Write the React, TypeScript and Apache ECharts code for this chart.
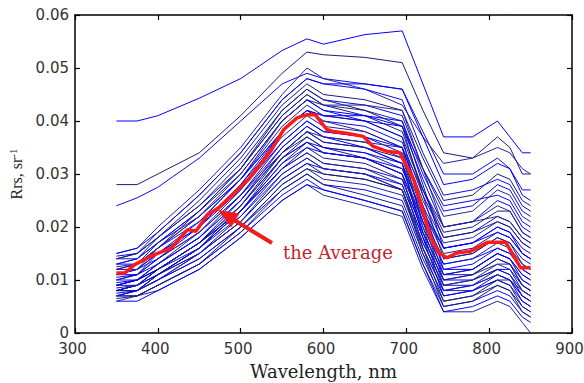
import React, { useEffect, useRef } from "react";
import * as echarts from "echarts";

// Common wavelength sampling of the individual spectra (nm)
const wavelengths = [350, 375, 400, 450, 500, 550, 580, 600, 650, 695, 720, 745, 780, 810, 825, 840, 850];

// Individual Rrs spectra (sr^-1), one row per station
const spectra: number[][] = [
  [0.040, 0.040, 0.041, 0.0443, 0.048, 0.0533, 0.0555, 0.0545, 0.0563, 0.057, 0.047, 0.037, 0.037, 0.040, 0.037, 0.034, 0.034],
  [0.028, 0.028, 0.030, 0.034, 0.041, 0.049, 0.053, 0.0525, 0.052, 0.051, 0.042, 0.034, 0.033, 0.037, 0.035, 0.030, 0.030],
  [0.024, 0.0255, 0.0275, 0.033, 0.040, 0.047, 0.049, 0.048, 0.047, 0.046, 0.038, 0.030, 0.030, 0.033, 0.031, 0.027, 0.027],
  [0.015, 0.016, 0.020, 0.027, 0.035, 0.045, 0.050, 0.048, 0.046, 0.043, 0.037, 0.032, 0.033, 0.035, 0.034, 0.031, 0.030],
  [0.015, 0.016, 0.019, 0.026, 0.034, 0.044, 0.048, 0.047, 0.047, 0.046, 0.037, 0.028, 0.029, 0.032, 0.031, 0.026, 0.025],
  [0.014, 0.015, 0.018, 0.025, 0.033, 0.043, 0.047, 0.045, 0.044, 0.042, 0.033, 0.025, 0.026, 0.030, 0.029, 0.025, 0.024],
  [0.014, 0.014, 0.018, 0.024, 0.032, 0.042, 0.046, 0.044, 0.043, 0.041, 0.031, 0.023, 0.024, 0.028, 0.027, 0.023, 0.022],
  [0.013, 0.014, 0.017, 0.023, 0.031, 0.041, 0.045, 0.043, 0.042, 0.040, 0.030, 0.022, 0.023, 0.027, 0.026, 0.022, 0.021],
  [0.013, 0.013, 0.017, 0.023, 0.030, 0.040, 0.044, 0.042, 0.041, 0.039, 0.029, 0.020, 0.021, 0.025, 0.024, 0.020, 0.019],
  [0.012, 0.013, 0.016, 0.022, 0.029, 0.039, 0.043, 0.041, 0.040, 0.037, 0.027, 0.019, 0.020, 0.023, 0.023, 0.019, 0.018],
  [0.012, 0.012, 0.016, 0.021, 0.029, 0.038, 0.042, 0.040, 0.039, 0.036, 0.026, 0.018, 0.019, 0.022, 0.021, 0.018, 0.017],
  [0.011, 0.012, 0.015, 0.020, 0.028, 0.037, 0.041, 0.039, 0.038, 0.035, 0.025, 0.017, 0.018, 0.021, 0.020, 0.017, 0.016],
  [0.011, 0.011, 0.015, 0.020, 0.027, 0.036, 0.040, 0.038, 0.037, 0.034, 0.024, 0.016, 0.017, 0.020, 0.019, 0.016, 0.015],
  [0.010, 0.011, 0.014, 0.019, 0.026, 0.035, 0.039, 0.037, 0.036, 0.033, 0.023, 0.015, 0.016, 0.019, 0.018, 0.015, 0.014],
  [0.010, 0.011, 0.013, 0.018, 0.025, 0.034, 0.038, 0.036, 0.035, 0.032, 0.022, 0.014, 0.015, 0.018, 0.017, 0.014, 0.013],
  [0.010, 0.010, 0.013, 0.018, 0.025, 0.034, 0.037, 0.035, 0.034, 0.031, 0.021, 0.013, 0.014, 0.017, 0.016, 0.013, 0.012],
  [0.009, 0.010, 0.012, 0.017, 0.024, 0.033, 0.036, 0.034, 0.033, 0.030, 0.020, 0.012, 0.013, 0.016, 0.015, 0.012, 0.011],
  [0.009, 0.010, 0.012, 0.017, 0.023, 0.032, 0.035, 0.033, 0.032, 0.029, 0.019, 0.011, 0.012, 0.015, 0.014, 0.011, 0.010],
  [0.009, 0.009, 0.012, 0.016, 0.023, 0.031, 0.034, 0.032, 0.031, 0.029, 0.019, 0.011, 0.011, 0.014, 0.013, 0.010, 0.009],
  [0.008, 0.009, 0.011, 0.016, 0.022, 0.031, 0.034, 0.032, 0.031, 0.028, 0.018, 0.010, 0.011, 0.013, 0.013, 0.009, 0.008],
  [0.008, 0.009, 0.011, 0.015, 0.022, 0.030, 0.033, 0.031, 0.030, 0.028, 0.018, 0.010, 0.010, 0.012, 0.012, 0.009, 0.008],
  [0.008, 0.008, 0.011, 0.015, 0.021, 0.029, 0.032, 0.030, 0.029, 0.027, 0.017, 0.009, 0.010, 0.012, 0.011, 0.008, 0.007],
  [0.008, 0.008, 0.010, 0.015, 0.021, 0.029, 0.032, 0.031, 0.030, 0.027, 0.016, 0.008, 0.009, 0.011, 0.010, 0.007, 0.006],
  [0.007, 0.008, 0.010, 0.014, 0.020, 0.028, 0.031, 0.029, 0.028, 0.026, 0.016, 0.008, 0.008, 0.010, 0.010, 0.007, 0.006],
  [0.007, 0.008, 0.010, 0.014, 0.020, 0.027, 0.030, 0.028, 0.027, 0.025, 0.015, 0.007, 0.008, 0.010, 0.009, 0.006, 0.005],
  [0.007, 0.007, 0.009, 0.013, 0.019, 0.027, 0.030, 0.028, 0.026, 0.024, 0.014, 0.006, 0.007, 0.009, 0.008, 0.005, 0.004],
  [0.007, 0.007, 0.009, 0.013, 0.019, 0.026, 0.029, 0.027, 0.025, 0.023, 0.013, 0.005, 0.006, 0.008, 0.007, 0.004, 0.003],
  [0.006, 0.007, 0.008, 0.012, 0.018, 0.025, 0.028, 0.026, 0.024, 0.022, 0.012, 0.004, 0.004, 0.006, 0.005, 0.002, 0.000],
  [0.006, 0.006, 0.008, 0.012, 0.018, 0.025, 0.028, 0.027, 0.025, 0.023, 0.013, 0.004, 0.005, 0.007, 0.006, 0.003, 0.002],
  [0.012, 0.013, 0.016, 0.023, 0.031, 0.042, 0.046, 0.044, 0.042, 0.039, 0.026, 0.014, 0.015, 0.018, 0.017, 0.013, 0.012],
  [0.011, 0.012, 0.015, 0.021, 0.029, 0.040, 0.044, 0.042, 0.040, 0.037, 0.022, 0.011, 0.012, 0.015, 0.014, 0.010, 0.009],
  [0.009, 0.010, 0.013, 0.019, 0.027, 0.038, 0.042, 0.040, 0.038, 0.035, 0.020, 0.009, 0.010, 0.013, 0.012, 0.008, 0.007],
  [0.008, 0.009, 0.012, 0.017, 0.025, 0.035, 0.039, 0.037, 0.035, 0.032, 0.018, 0.007, 0.008, 0.011, 0.010, 0.006, 0.005],
  [0.008, 0.008, 0.011, 0.016, 0.024, 0.033, 0.037, 0.035, 0.033, 0.030, 0.016, 0.006, 0.007, 0.010, 0.009, 0.005, 0.004],
  [0.013, 0.014, 0.017, 0.022, 0.029, 0.038, 0.042, 0.041, 0.040, 0.039, 0.031, 0.024, 0.025, 0.026, 0.025, 0.021, 0.020],
  [0.011, 0.012, 0.014, 0.019, 0.026, 0.034, 0.038, 0.037, 0.036, 0.035, 0.027, 0.020, 0.021, 0.022, 0.021, 0.018, 0.017],
  [0.009, 0.010, 0.012, 0.017, 0.023, 0.031, 0.035, 0.034, 0.033, 0.031, 0.023, 0.016, 0.017, 0.019, 0.018, 0.015, 0.014],
  [0.014, 0.015, 0.018, 0.024, 0.031, 0.041, 0.045, 0.043, 0.041, 0.038, 0.027, 0.018, 0.019, 0.021, 0.020, 0.017, 0.016],
  [0.008, 0.009, 0.011, 0.016, 0.023, 0.032, 0.036, 0.034, 0.033, 0.030, 0.021, 0.013, 0.014, 0.016, 0.015, 0.012, 0.011],
  [0.007, 0.008, 0.010, 0.015, 0.021, 0.030, 0.033, 0.031, 0.030, 0.027, 0.017, 0.009, 0.009, 0.011, 0.010, 0.008, 0.007],
  [0.0095, 0.010, 0.013, 0.018, 0.026, 0.036, 0.040, 0.038, 0.037, 0.035, 0.024, 0.012, 0.012, 0.015, 0.014, 0.011, 0.010],
  [0.0085, 0.009, 0.012, 0.017, 0.024, 0.034, 0.038, 0.036, 0.035, 0.033, 0.021, 0.010, 0.011, 0.014, 0.013, 0.009, 0.008],
  [0.0075, 0.008, 0.011, 0.016, 0.023, 0.033, 0.036, 0.035, 0.034, 0.032, 0.019, 0.008, 0.009, 0.012, 0.011, 0.007, 0.006],
  [0.0125, 0.013, 0.016, 0.022, 0.030, 0.040, 0.044, 0.043, 0.043, 0.042, 0.031, 0.020, 0.021, 0.024, 0.023, 0.019, 0.018],
  [0.0105, 0.011, 0.014, 0.020, 0.028, 0.038, 0.042, 0.041, 0.041, 0.040, 0.028, 0.016, 0.017, 0.020, 0.019, 0.015, 0.014],
  [0.0065, 0.007, 0.009, 0.013, 0.020, 0.028, 0.031, 0.030, 0.029, 0.027, 0.015, 0.005, 0.006, 0.009, 0.008, 0.004, 0.003],
  [0.0145, 0.015, 0.019, 0.026, 0.034, 0.044, 0.048, 0.047, 0.046, 0.044, 0.034, 0.026, 0.027, 0.029, 0.028, 0.024, 0.023],
];

// The average spectrum (red)
const avgWavelengths = [350, 360, 372, 396, 406, 416, 436, 446, 460, 473, 489, 509, 525, 537, 552, 568, 580, 590, 604, 612, 628, 648, 660, 676, 692, 709, 721, 729, 739, 749, 761, 777, 798, 820, 838, 850];
const avgValues = [0.0113, 0.0113, 0.0129, 0.0148, 0.0154, 0.016, 0.0195, 0.0192, 0.0223, 0.0236, 0.026, 0.0289, 0.032, 0.0345, 0.0384, 0.0406, 0.0412, 0.0412, 0.0384, 0.038, 0.0377, 0.0371, 0.0352, 0.0343, 0.034, 0.0289, 0.0226, 0.0182, 0.0151, 0.0142, 0.0151, 0.0154, 0.0171, 0.0171, 0.0123, 0.0123];

const xTicks = [300, 900, 100];
const yTicks = [0, 0.06, 0.01];

const blueColors = ["#0000ff", "#1c1c7a", "#0a0ae6", "#24249c"];

export default function App() {
  const ref = useRef<HTMLDivElement>(null);
  useEffect(() => {
    if (!ref.current) return;
    const chart = echarts.init(ref.current, null, { renderer: "svg" });
    const blueSeries = spectra.map((vals, i) => ({
      type: "line",
      data: wavelengths.map((w, j) => [w, vals[j]]),
      showSymbol: false,
      silent: true,
      lineStyle: { width: 1, color: blueColors[i % blueColors.length] },
      z: 2,
    }));
    const axisLine = { show: true, onZero: false, lineStyle: { color: "#000", width: 1.5 } };
    const tick = { show: true, inside: true, length: 5, lineStyle: { color: "#000", width: 1.2 } };
    const labelStyle = { fontFamily: "DejaVu Sans", fontSize: 15, color: "#333" };
    chart.setOption({
      animation: false,
      backgroundColor: "#fff",
      grid: { left: 75, right: 12, top: 15, bottom: 50, outerBoundsMode: "none" },
      xAxis: [
        {
          type: "value", min: xTicks[0], max: xTicks[1], interval: xTicks[2], position: "bottom",
          axisLine, axisTick: tick, splitLine: { show: false },
          axisLabel: { ...labelStyle, margin: 9, lineHeight: 13, padding: [0, 5, 0, 0] },
          name: "Wavelength, nm", nameLocation: "middle", nameGap: 29,
          nameTextStyle: { fontFamily: "DejaVu Serif", fontSize: 18, color: "#222" },
        },
        {
          type: "value", min: xTicks[0], max: xTicks[1], interval: xTicks[2], position: "top",
          axisLine, axisTick: tick, splitLine: { show: false }, axisLabel: { show: false },
        },
      ],
      yAxis: [
        {
          type: "value", min: yTicks[0], max: yTicks[1], interval: yTicks[2], position: "left",
          axisLine, axisTick: tick, splitLine: { show: false },
          axisLabel: { ...labelStyle, margin: 6, lineHeight: 10, formatter: (v: number) => (v === 0 ? "0" : v.toFixed(2)) },
          name: "{a|Rrs, sr}{b|-1}", nameLocation: "middle", nameGap: 48, nameRotate: 90,
          nameTextStyle: {
            fontFamily: "Liberation Serif",
            fontSize: 16,
            color: "#222",
            rich: {
              a: { fontFamily: "Liberation Serif", fontSize: 16, color: "#222" },
              b: { fontFamily: "Liberation Serif", fontSize: 11, color: "#222", verticalAlign: "top", padding: [0, 0, 8, 0] },
            },
          },
        },
        {
          type: "value", min: yTicks[0], max: yTicks[1], interval: yTicks[2], position: "right",
          axisLine, axisTick: tick, splitLine: { show: false }, axisLabel: { show: false },
        },
      ],
      series: [
        ...blueSeries,
        {
          type: "line",
          data: avgWavelengths.map((w, j) => [w, avgValues[j]]),
          showSymbol: false,
          silent: true,
          lineStyle: { width: 3.5, color: "#ff1a1a" },
          z: 5,
        },
      ],
      graphic: [
        {
          type: "line",
          shape: { x1: 272, y1: 243, x2: 234, y2: 220 },
          style: { stroke: "#f01c1c", lineWidth: 4 },
          z: 10,
        },
        {
          type: "polygon",
          shape: { points: [[218, 210], [239.5, 213.5], [231, 227.5]] },
          style: { fill: "#f01c1c" },
          z: 10,
        },
        {
          type: "text",
          x: 283,
          y: 252,
          style: {
            text: "the Average",
            fontFamily: "DejaVu Serif",
            fontSize: 18,
            fill: "#c0242e",
            verticalAlign: "middle",
          },
          z: 10,
        },
      ],
    });
    return () => chart.dispose();
  }, []);
  return <div ref={ref} style={{ width: 584, height: 383, position: "absolute", left: 0, top: 0 }} />;
}
